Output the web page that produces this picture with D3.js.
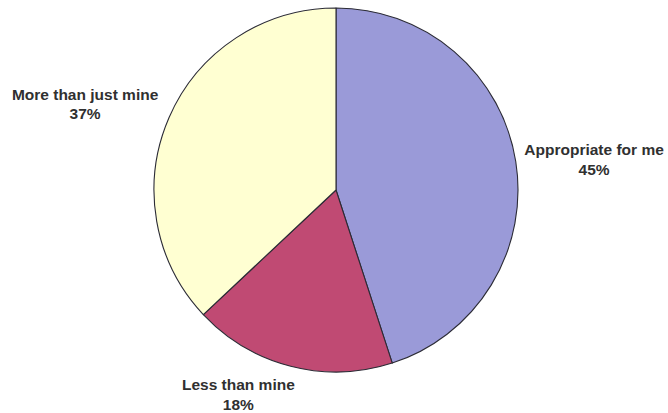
<!DOCTYPE html>
<html>
<head>
<meta charset="utf-8">
<script src="https://cdn.jsdelivr.net/npm/d3@7"></script>
<style>
  html, body { margin: 0; padding: 0; background: #fff; }
  svg { display: block; }
  text { font-family: "Liberation Sans", Arial, sans-serif; font-weight: bold; fill: #303030; }
</style>
</head>
<body>
<svg id="chart" width="668" height="413"></svg>
<script>
// Share of responses, clockwise from 12 o'clock
const categories = ["Appropriate for me", "Less than mine", "More than just mine"];
const shares = [45, 18, 37];
const percentLabels = ["45%", "18%", "37%"];

const sliceColors = ["#9a9ad8", "#c04a73", "#ffffd2"];
// Nudges for label blocks (px)
const labelShiftX = [0, -36, -8];
const labelShiftY = [2, 4, -4];

const width = 668, height = 413;
const cx = 336, cy = 190, radius = 182;
const fontSize = 15.5, lineGap = 19.5, labelGap = 9.5;

const svg = d3.select("#chart");
const g = svg.append("g").attr("transform", `translate(${cx},${cy})`);

const pie = d3.pie().sort(null).value(d => d.value);
const arcs = pie(categories.map((c, i) => ({ name: c, value: shares[i], pct: percentLabels[i], i })));

const arc = d3.arc().innerRadius(0).outerRadius(radius);

g.selectAll("path.slice")
  .data(arcs)
  .join("path")
  .attr("class", "slice")
  .attr("d", arc)
  .attr("fill", d => sliceColors[d.data.i])
  .attr("stroke", "#2b2b35")
  .attr("stroke-width", 1.1)
  .attr("stroke-linejoin", "round");

// Labels sit just outside the rim at each slice's mid-angle
const labels = g.selectAll("g.label")
  .data(arcs)
  .join("g")
  .attr("class", "label");

labels.each(function (d) {
  const lg = d3.select(this);
  const t1 = lg.append("text").attr("text-anchor", "middle").attr("font-size", fontSize).text(d.data.name);
  const t2 = lg.append("text").attr("text-anchor", "middle").attr("font-size", fontSize).text(d.data.pct);
  const w = Math.max(t1.node().getComputedTextLength(), t2.node().getComputedTextLength());
  const capH = fontSize * 0.716;
  const h = capH + lineGap;
  const a = (d.startAngle + d.endAngle) / 2;
  const s = Math.sin(a), c = Math.cos(a);
  const r = radius + labelGap;
  const bx = (r + w / 2) * s + labelShiftX[d.data.i];
  const by = -r * c - c * h / 2 + labelShiftY[d.data.i];
  const base1 = by - h / 2 + capH;
  t1.attr("x", bx).attr("y", base1);
  t2.attr("x", bx).attr("y", base1 + lineGap);
});
</script>
</body>
</html>
